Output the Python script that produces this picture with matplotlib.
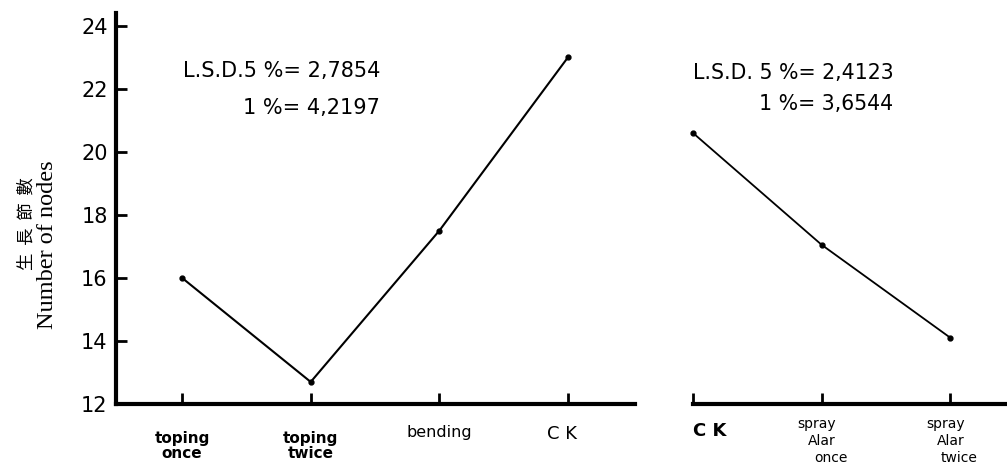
import matplotlib.pyplot as plt

# left panel: topping / bending treatments
left_labels = ['toping\nonce', 'toping\ntwice', 'bending', 'C K']
left_values = [16.0, 12.7, 17.5, 23.0]

# right panel: Alar spray treatments
right_labels = ['C K', 'spray\nAlar\nonce', 'spray\nAlar\ntwice']
right_values = [20.6, 17.05, 14.1]

yticks = [12, 14, 16, 18, 20, 22, 24]

fig = plt.figure(figsize=(10.07, 4.73), dpi=100)
ax1 = fig.add_axes([0.1152, 0.1459, 0.5154, 0.8266])
ax2 = fig.add_axes([0.688, 0.1459, 0.312, 0.8266])

x1 = list(range(len(left_values)))
x2 = list(range(len(right_values)))

ax1.plot(x1, left_values, color='black', lw=1.5, marker='o', ms=3.5)
ax2.plot(x2, right_values, color='black', lw=1.3, marker='o', ms=3.5, clip_on=False)

for ax in (ax1, ax2):
    ax.set_ylim(12, 24.4)
    for s in ('top', 'right'):
        ax.spines[s].set_visible(False)
    ax.spines['bottom'].set_linewidth(3)
    ax.spines['left'].set_linewidth(3)
    ax.tick_params(direction='in', length=8, width=2, colors='black')

ax1.set_xlim(-0.513, 3.52)
ax1.set_yticks(yticks)
ax1.set_yticklabels([str(v) for v in yticks], fontsize=15)
ax1.tick_params(axis='y', pad=6)
ax1.set_xticks(x1)
ax1.set_xticklabels([])
xt1 = ax1.get_xaxis_transform()
for i, lab in enumerate(left_labels):
    if lab == 'C K':
        ax1.text(i - 0.05, -0.055, lab, transform=xt1,
                 ha='center', va='top', fontsize=13)
    elif lab == 'bending':
        ax1.text(i, -0.055, lab, transform=xt1,
                 ha='center', va='top', fontsize=11.5)
    else:
        ax1.text(i, -0.07, lab, transform=xt1,
                 ha='center', va='top', fontsize=11, fontweight='bold',
                 linespacing=0.95)

ax2.set_xlim(0, 2.44)
ax2.spines['left'].set_visible(False)
ax2.set_yticks([])
ax2.set_xticks(x2)
ax2.set_xticklabels([])
xt2 = ax2.get_xaxis_transform()
line_shift = [-0.04, 0.0, 0.07]
line_y = [-0.033, -0.077, -0.121]
for i, lab in enumerate(right_labels):
    if lab == 'C K':
        ax2.text(i, -0.045, lab, transform=xt2,
                 ha='left', va='top', fontsize=13, fontweight='bold')
    else:
        for k, part in enumerate(lab.split('\n')):
            ax2.text(i + line_shift[k], line_y[k], part, transform=xt2,
                     ha='center', va='top', fontsize=10)

ax1.text(1.54, 22.55, 'L.S.D.5 %= 2,7854', ha='right', va='center', fontsize=15)
ax1.text(1.54, 21.4, '1 %= 4,2197', ha='right', va='center', fontsize=15)
ax2.text(0.0, 22.5, 'L.S.D. 5 %= 2,4123', ha='left', va='center', fontsize=14.8)
ax2.text(1.556, 21.5, '1 %= 3,6544', ha='right', va='center', fontsize=14.8)

fig.text(0.026, 0.528, '生  長  節  數', rotation=90, ha='center', va='center',
         fontsize=12.5, family=['Noto Sans CJK TC', 'DejaVu Sans'])
fig.text(0.047, 0.482, 'Number of nodes', rotation=90, ha='center', va='center',
         fontsize=17.5, family='Liberation Serif')

fig.savefig('out.png', dpi=100)
